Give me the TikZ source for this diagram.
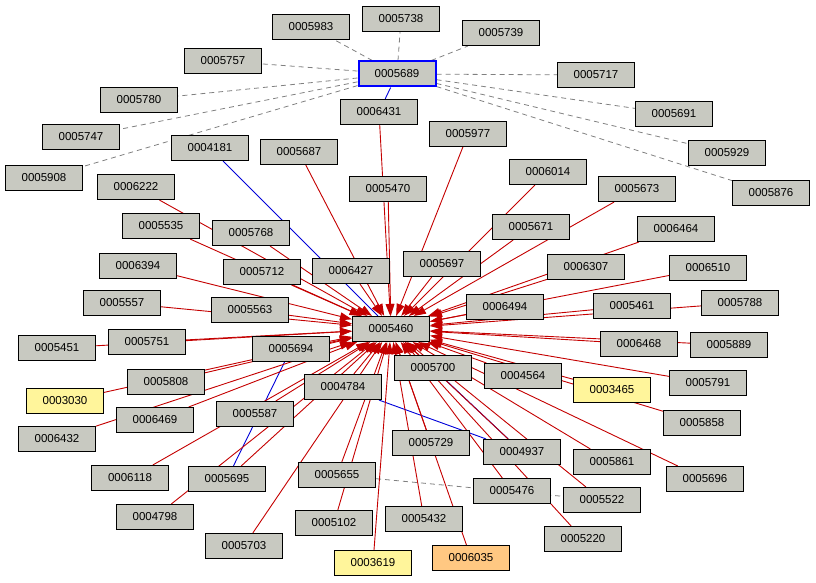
\documentclass[tikz,border=0pt]{standalone}
\usepackage{fontspec}
\setmainfont{Liberation Sans}
\usetikzlibrary{arrows.meta,backgrounds}
\definecolor{ndfill}{RGB}{200,201,193}
\definecolor{redc}{RGB}{196,0,0}
\begin{document}
\begin{tikzpicture}[x=1pt,y=-1pt,
 nd/.style={draw,line width=1.1pt,fill=ndfill,minimum width=77pt,minimum height=25pt,inner sep=1pt,font=\fontsize{11.5}{13}\selectfont},
 yel/.style={nd,fill={rgb,255:red,255;green,245;blue,155}},
 org/.style={nd,fill={rgb,255:red,255;green,200;blue,130}},
 redge/.style={draw=redc,line width=0.9pt,-{Triangle[length=12pt,width=8pt]}},
 bedge/.style={draw=blue!85!black,line width=0.9pt},
 gedge/.style={draw=gray,line width=0.8pt,dash pattern=on 5pt off 4pt}]
\useasboundingbox (0,0) rectangle (816,583);
\foreach \n/\x/\y in {0005983/311/27,0005738/401/19,0005739/501/33,0005757/223/61,0005717/596/75,0005780/139/100,0006431/379/112,0005691/674/114,0005747/81/137,0004181/210/148,0005687/299/152,0005977/468/134,0005929/727/153,0005908/44/178,0006222/136/187,0005470/388/189,0006014/548/172,0005673/637/189,0005876/771/193,0005535/161/226,0005768/251/233,0005671/531/227,0006464/676/229,0006394/138/266,0005712/262/272,0006427/351/271,0005697/442/264,0006307/586/267,0006510/708/268,0005557/122/303,0005563/250/310,0006494/505/307,0005461/632/306,0005788/740/303,0005460/391/329,0005451/57/348,0005751/147/342,0005694/291/349,0006468/639/344,0005889/729/345,0005700/433/368,0004564/523/376,0005808/166/382,0004784/343/387,0005791/708/383,0005587/255/414,0006469/155/420,0005858/702/423,0006432/57/439,0005729/431/443,0004937/522/452,0005861/612/462,0006118/130/478,0005695/227/479,0005655/337/475,0005696/705/479,0005476/512/491,0005522/602/500,0004798/155/517,0005102/334/523,0005432/424/519,0005220/583/539,0005703/244/546}
 {\node[nd] (n\n) at (\x,\y) {\n};}
\node[nd,draw=blue,line width=2pt] (n0005689) at (397,74) {0005689};
\node[yel] (n0003030) at (65,401) {0003030};
\node[yel] (n0003465) at (612,390) {0003465};
\node[yel] (n0003619) at (373,563) {0003619};
\node[org] (n0006035) at (471,558) {0006035};
\begin{scope}[on background layer]
\foreach \m in {0005983,0005738,0005739,0005757,0005717,0005780,0005691,0005747,0005929,0005908,0005876}
 \draw[gedge] (n0005689) -- (n\m);
\draw[gedge] (n0005655) -- (n0005522);
\draw[bedge] (n0005689) -- (n0006431);
\draw[bedge] (n0004181) -- (n0005460);
\draw[bedge] (n0005694) -- (n0005695);
\draw[bedge] (n0004784) -- (n0004937);
\draw[bedge] (n0005700) -- (n0004937);
\foreach \m in {0006431,0005687,0005977,0005470,0006014,0005673,0006222,0005535,0005768,0005671,0006464,0006394,0005712,0006427,0005697,0006307,0006510,0005557,0005563,0006494,0005461,0005788,0005451,0005751,0005694,0006468,0005889,0005700,0004564,0005808,0004784,0003030,0003465,0005791,0005587,0006469,0005858,0006432,0005729,0004937,0005861,0006118,0005695,0005655,0005696,0005476,0005522,0004798,0005102,0005432,0005220,0005703,0003619,0006035}
 \draw[redge] (n\m) -- (n0005460);
\end{scope}
\end{tikzpicture}
\end{document}
